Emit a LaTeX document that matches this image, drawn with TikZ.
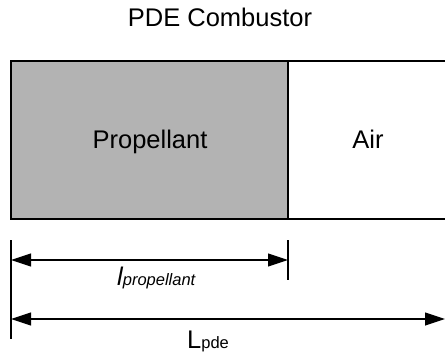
\documentclass[tikz,border=0pt]{standalone}
\usepackage{fontspec}
\setmainfont{Liberation Sans}
\usetikzlibrary{arrows.meta}
\definecolor{propgray}{RGB}{179,179,179}
\tikzset{
  big/.style={font=\fontsize{25.5}{30}\selectfont, inner sep=0pt, anchor=base},
  dimline/.style={line width=1.2pt, {Triangle[length=20pt,width=13pt]}-{Triangle[length=20pt,width=13pt]}},
  tick/.style={line width=1.2pt},
  boxline/.style={line width=1.2pt}
}
\begin{document}
\begin{tikzpicture}[x=1pt,y=-1pt]
\useasboundingbox (0,0) rectangle (445,353);
% box
\fill[propgray] (11,61) rectangle (288,219);
\draw[boxline] (450,61) -- (11,61) -- (11,219) -- (450,219);
\draw[boxline] (288,61) -- (288,219);
% texts
\node[big] (title) at (220,27) {PDE Combustor};
\node[big] (prop) at (150,149) {Propellant};
\node[big] (air) at (368,149) {Air};
% dimension ticks
\coordinate (t1a) at (11,240);
\coordinate (t1b) at (11,339);
\coordinate (t2a) at (288,240);
\coordinate (t2b) at (288,280);
\draw[tick] (t1a) -- (t1b);
\draw[tick] (t2a) -- (t2b);
\coordinate (a1l) at (11,260);
\coordinate (a1r) at (288,260);
\coordinate (a2l) at (11,319);
\coordinate (a2r) at (445,319);
\draw[dimline] (a1l) -- (a1r);
\draw[dimline] (a2l) -- (a2r);
\node[big, anchor=base west] (lp) at (117,285) {\itshape l\fontsize{16.5}{18}\selectfont propellant};
\node[big, anchor=base west] (lpde) at (187,348) {L\fontsize{16.5}{18}\selectfont pde};
\end{tikzpicture}
\end{document}
